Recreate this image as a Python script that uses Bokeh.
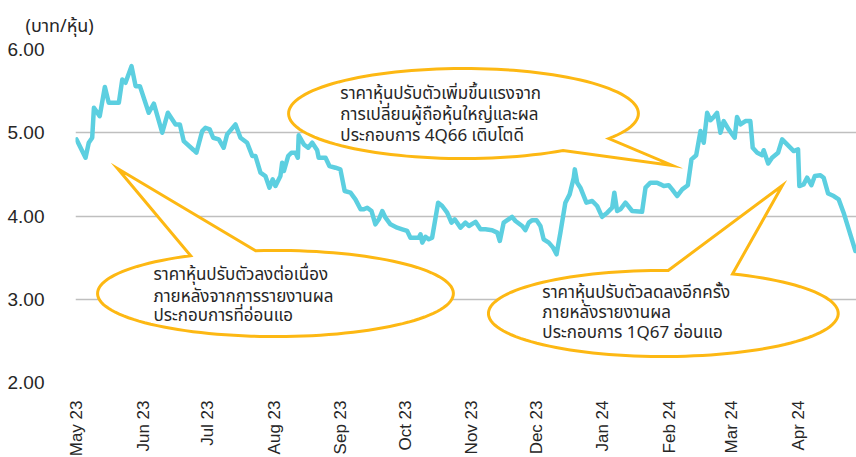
import math
import datetime as dt
from bokeh.plotting import figure
from bokeh.models import (FixedTicker, NumeralTickFormatter, DatetimeTickFormatter,
                          MonthsTicker, Title, Range1d)
from bokeh.embed import file_html
from bokeh.resources import INLINE
from bokeh.core.properties import value

# ---------------- data ----------------
START = dt.datetime(2023, 5, 1)
# days after 1 May 2023
days = [0.0, 4.2, 5.7, 7.3, 8.1, 10.8, 13.2, 15.0, 19.7, 21.3,
        22.8, 25.6, 27.5, 29.5, 33.6, 36.0, 39.9, 42.5, 46.1, 48.1,
        49.9, 54.6, 55.8, 58.5, 60.0, 62.0, 63.6, 66.2, 68.5, 70.1,
        74.0, 76.3, 79.4, 81.8, 83.3, 85.6, 87.9, 89.8, 91.3, 92.6,
        94.9, 95.7, 96.5, 98.5, 100.0, 101.9, 103.0, 103.4, 105.8, 107.8,
        109.7, 112.0, 112.7, 115.9, 117.7, 120.5, 122.8, 124.8, 127.5, 129.8,
        132.2, 133.7, 135.3, 137.3, 139.1, 140.7, 142.3, 143.8, 146.1, 149.2,
        151.6, 153.9, 155.4, 159.3, 160.1, 160.9, 162.4, 163.9, 165.5, 168.3,
        170.2, 172.5, 174.5, 176.0, 178.7, 181.0, 182.6, 185.7, 188.0, 190.3,
        193.4, 195.8, 197.0, 198.8, 202.7, 204.3, 207.4, 208.9, 210.5, 212.1,
        214.1, 215.9, 217.4, 219.8, 221.8, 223.4, 225.2, 227.5, 229.5, 231.4,
        231.9, 233.0, 234.5, 237.3, 240.0, 242.3, 244.6, 247.0, 249.3, 250.3,
        251.6, 253.1, 255.5, 258.6, 263.2, 264.8, 267.1, 270.2, 271.8, 273.3,
        275.6, 277.2, 279.5, 281.9, 284.5, 286.2, 288.4, 290.4, 291.9, 293.5,
        295.0, 296.6, 298.1, 299.7, 301.2, 303.5, 306.3, 307.4, 309.0, 311.3,
        313.6, 314.7, 316.8, 319.1, 319.8, 321.9, 323.7, 326.5, 328.4, 330.7,
        333.8, 335.8, 336.4, 338.4, 340.0, 342.0, 343.6, 346.2, 347.7, 349.8,
        352.4, 354.7, 357.0, 359.4, 362.5]
prices = [4.92, 4.70, 4.88, 4.94, 5.30, 5.20, 5.55, 5.36, 5.36, 5.64,
          5.60, 5.80, 5.56, 5.56, 5.24, 5.35, 5.00, 5.24, 5.10, 5.10,
          4.90, 4.79, 4.76, 5.02, 5.06, 5.04, 4.94, 4.92, 4.82, 4.98,
          5.10, 4.94, 4.88, 4.72, 4.72, 4.52, 4.48, 4.34, 4.44, 4.36,
          4.48, 4.64, 4.54, 4.72, 4.76, 4.76, 4.70, 4.97, 4.86, 4.82,
          4.88, 4.79, 4.70, 4.70, 4.60, 4.58, 4.56, 4.30, 4.28, 4.20,
          4.08, 4.08, 4.10, 4.06, 3.90, 3.96, 4.06, 3.98, 3.90, 3.86,
          3.84, 3.82, 3.74, 3.74, 3.78, 3.68, 3.75, 3.72, 3.74, 4.16,
          4.12, 4.04, 3.92, 3.96, 3.86, 3.92, 3.88, 3.93, 3.84, 3.84,
          3.83, 3.80, 3.70, 3.92, 3.99, 3.94, 3.88, 3.83, 3.92, 3.95,
          3.95, 3.88, 3.72, 3.68, 3.62, 3.54, 3.80, 4.16, 4.26, 4.46,
          4.56, 4.40, 4.34, 4.16, 4.18, 4.12, 3.99, 4.04, 4.10, 4.28,
          4.06, 4.08, 4.16, 4.06, 4.05, 4.34, 4.40, 4.40, 4.38, 4.36,
          4.37, 4.32, 4.24, 4.32, 4.37, 4.68, 4.73, 5.02, 4.88, 5.24,
          5.15, 5.19, 5.24, 5.00, 5.14, 5.04, 4.94, 5.19, 5.10, 5.14,
          5.14, 4.82, 4.76, 4.73, 4.79, 4.63, 4.70, 4.76, 4.92, 4.86,
          4.78, 4.80, 4.36, 4.38, 4.46, 4.37, 4.48, 4.49, 4.46, 4.27,
          4.24, 4.20, 4.04, 3.84, 3.58]
y_ticks = [2, 3, 4, 5, 6]
y_unit_label = "(บาท/หุ้น)"

callout_texts = [
    ["ราคาหุ้นปรับตัวเพิ่มขึ้นแรงจาก", "การเปลี่ยนผู้ถือหุ้นใหญ่และผล", "ประกอบการ 4Q66 เติบโตดี"],
    ["ราคาหุ้นปรับตัวลงต่อเนื่อง", "ภายหลังจากการรายงานผล", "ประกอบการที่อ่อนแอ"],
    ["ราคาหุ้นปรับตัวลดลงอีกครั้ง", "ภายหลังรายงานผล", "ประกอบการ 1Q67 อ่อนแอ"],
]

# ---------------- helpers ----------------
EPOCH = dt.datetime(1970, 1, 1)
START_MS = (START - EPOCH).total_seconds() * 1000.0
DAY_MS = 86400000.0


def to_ms(d):
    return START_MS + d * DAY_MS


# callout geometry (days, price): centre, semi-axes, tail angles (deg), tip
callouts = [
    dict(cx=180.1, cy=5.231, a=81.4, b=0.541, t0=-33.8, t1=-55.3 + 360, tip=(277.3, 4.607),
         tx=122.8, ty=[5.471, 5.219, 4.955]),
    dict(cx=92.6, cy=3.069, a=82.8, b=0.517, t0=118.5, t1=96.4 + 360, tip=(19.1, 4.571),
         tx=35.8, ty=[3.297, 3.033, 2.793]),
    dict(cx=273.1, cy=2.829, a=81.4, b=0.517, t0=88.4, t1=66.7 + 360, tip=(328.5, 4.366),
         tx=216.8, ty=[3.080, 2.840, 2.590]),
]

LINE_COLOR = "#5CCFE0"
ORANGE = "#FDB813"
GRID = "#BFBFBF"
TEXT = "#262626"
THAI_FONT = "Noto Sans Thai, Noto Sans, sans-serif"

p = figure(frame_width=781, frame_height=333, width=856, height=457,
           x_axis_type="datetime", output_backend="svg", toolbar_location=None,
           min_border_left=75, min_border_right=0, min_border_top=48, min_border_bottom=76,
           x_range=Range1d(to_ms(-0.47), to_ms(363.0)), y_range=Range1d(2.0, 6.0))
p.outline_line_color = None
p.background_fill_color = "white"
p.border_fill_color = "white"

p.xgrid.grid_line_color = None
p.ygrid.grid_line_color = GRID
p.ygrid.grid_line_width = 1.6

p.yaxis.ticker = FixedTicker(ticks=y_ticks)
p.yaxis.formatter = NumeralTickFormatter(format="0.00")
p.yaxis.axis_line_color = None
p.yaxis.major_tick_line_color = None
p.yaxis.minor_tick_line_color = None
p.yaxis.major_label_standoff = 25
p.yaxis.major_label_text_font_size = "19px"
p.yaxis.major_label_text_font = "Liberation Sans"
p.yaxis.major_label_text_color = TEXT

p.xaxis.ticker = MonthsTicker(months=list(range(12)))
p.xaxis.formatter = DatetimeTickFormatter(months="%b %y", days="%b %y")
p.xaxis.major_label_orientation = math.pi / 2
p.xaxis.axis_line_color = None
p.xaxis.major_tick_line_color = None
p.xaxis.minor_tick_line_color = None
p.xaxis.major_label_standoff = 12
p.xaxis.major_label_text_font_size = "17px"
p.xaxis.major_label_text_font = "Liberation Sans"
p.xaxis.major_label_text_color = TEXT

p.line([to_ms(d) for d in days], prices, line_color=LINE_COLOR, line_width=4.5,
       line_join="round", line_cap="round")

for c, lines in zip(callouts, callout_texts):
    xs, ys = [], []
    n = 120
    for i in range(n + 1):
        t = math.radians(c["t0"] + (c["t1"] - c["t0"]) * i / n)
        xs.append(to_ms(c["cx"] + c["a"] * math.cos(t)))
        ys.append(c["cy"] + c["b"] * math.sin(t))
    xs.append(to_ms(c["tip"][0]))
    ys.append(c["tip"][1])
    p.patch(xs, ys, fill_color="white", line_color=ORANGE, line_width=3, line_join="miter")
    p.text(x=[to_ms(c["tx"])] * len(lines), y=c["ty"], text=lines,
           text_font=value(THAI_FONT), text_font_size="17px", text_color=TEXT,
           text_align="left", text_baseline="middle")

p.add_layout(Title(text=y_unit_label, align="left", offset=-50, standoff=20,
                   text_font=THAI_FONT, text_font_size="18px", text_font_style="normal",
                   text_color=TEXT), "above")

open("out.html", "w").write(file_html(p, INLINE))
